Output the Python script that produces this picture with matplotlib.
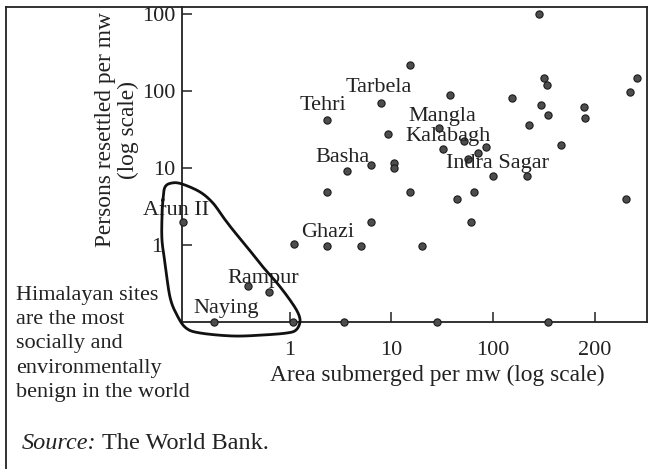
import numpy as np
import matplotlib
matplotlib.use("Agg")
import matplotlib.pyplot as plt
from matplotlib.lines import Line2D
from matplotlib.transforms import ScaledTranslation

# dam sites (both axes log scale)
area_per_mw = [284, 15.2, 7.9, 37.7, 154, 318, 340, 297, 348, 2620,
               2240, 790, 806, 226, 2.31, 29.4, 9.2, 51.8, 85, 32.2,
               71, 56.7, 468, 6.28, 10.6, 10.6, 3.64, 100, 216, 2.31,
               15.2, 44.2, 65, 2040, 6.28, 60.7, 2.31, 5.0, 20.0, 1.095,
               3.4, 28.1, 348, 0.088, 0.386, 0.62, 0.178, 1.07]
persons_per_mw = [1000, 218, 70, 89, 81, 148, 120, 66, 49, 148,
                  97, 62, 45, 36, 42, 33, 27.6, 22.4, 18.7, 17.7,
                  15.7, 13.1, 19.9, 10.9, 11.6, 10.0, 9.1, 7.9, 7.9, 4.9,
                  4.9, 4.0, 4.9, 4.0, 2.0, 2.0, 0.97, 0.97, 0.97, 1.03,
                  0.1, 0.1, 0.1, 2.0, 0.29, 0.245, 0.1, 0.1]

# named sites: (name, index of point, label offset in pixels)
site_labels = [("Tarbela", 2, (-36, 15)),
               ("Tehri", 14, (-27, 15)),
               ("Mangla", 15, (-31, 12)),
               ("Kalabagh", 19, (-38, 12)),
               ("Basha", 26, (-32, 14)),
               ("Indra Sagar", 27, (-47, 12)),
               ("Arun II", 43, (-40, 11)),
               ("Ghazi", 39, (7, 12)),
               ("Rampur", 44, (-21, 8)),
               ("Naying", 46, (-21, 13))]

tick_vals = [1, 10, 100, 1000]
x_tick_labels = ["1", "10", "100", "200"]
y_tick_labels = ["1", "10", "100", "100"]

# hand drawn loop round the Himalayan sites (data units)
loop_x = [0.056, 0.0587, 0.0688, 0.0863, 0.130, 0.174, 0.219, 0.274, 0.377, 0.542,
          0.745, 1.0, 1.20, 1.254, 1.146, 0.934, 0.542, 0.274, 0.130, 0.0945,
          0.077, 0.0657, 0.0587, 0.0548, 0.0548]
loop_y = [3.84, 5.66, 6.39, 6.20, 4.88, 3.51, 2.31, 1.57, 0.942, 0.518,
          0.321, 0.193, 0.131, 0.1, 0.0787, 0.072, 0.0678, 0.0658, 0.072, 0.0836,
          0.123, 0.211, 0.584, 1.16, 2.31]


def smooth_closed(xs, ys, n=16):
    # closed catmull-rom through the loop vertices, done in log space
    P = np.column_stack([np.log10(xs), np.log10(ys)])
    N = len(P)
    t = np.linspace(0, 1, n, endpoint=False)[:, None]
    segs = []
    for i in range(N):
        p0, p1, p2, p3 = P[i - 1], P[i], P[(i + 1) % N], P[(i + 2) % N]
        segs.append(0.5 * (2 * p1 + (-p0 + p2) * t
                           + (2 * p0 - 5 * p1 + 4 * p2 - p3) * t ** 2
                           + (-p0 + 3 * p1 - 3 * p2 + p3) * t ** 3))
    out = np.vstack(segs + [P[:1]])
    return 10 ** out[:, 0], 10 ** out[:, 1]


ink = "#222222"
plt.rcParams["font.family"] = ["Liberation Serif", "DejaVu Serif"]
fs = 16

fig = plt.figure(figsize=(6.53, 4.69), dpi=100)
ax = fig.add_axes([182 / 653, 1 - 322 / 469, 465 / 653, 315 / 469])
ax.set_xscale("log")
ax.set_yscale("log")
ax.set_xlim(0.0863, 3290)
ax.set_ylim(0.1, 1233)

ax.plot(area_per_mw, persons_per_mw, "o", ms=5.2, mfc="#4d4d4d", mec="#1a1a1a",
        mew=0.8, clip_on=False, zorder=3)

for name, i, off in site_labels:
    ax.annotate(name, (area_per_mw[i], persons_per_mw[i]), xytext=off,
                textcoords="offset pixels", ha="left", va="center",
                fontsize=fs, color=ink, zorder=4)

lx, ly = smooth_closed(loop_x, loop_y)
ax.plot(lx, ly, color="#111111", lw=2.0, clip_on=False, zorder=5)

ax.set_xticks(tick_vals)
ax.set_xticklabels(x_tick_labels)
ax.set_yticks(tick_vals)
ax.set_yticklabels(y_tick_labels)
ax.minorticks_off()
ax.tick_params(axis="x", direction="in", length=7, width=1.1, pad=14,
               labelsize=fs, colors=ink, top=False)
ax.tick_params(axis="y", direction="in", length=7, width=1.1, pad=5,
               labelsize=fs, colors=ink, right=False)
# the "1" on the y axis sits further out in the original
lab1 = ax.yaxis.get_major_ticks()[0].label1
lab1.set_transform(lab1.get_transform() + ScaledTranslation(-0.13, 0, fig.dpi_scale_trans))
for sp in ax.spines.values():
    sp.set_color(ink)
    sp.set_linewidth(1.3)

ax.set_xlabel("Area submerged per mw (log scale)", fontsize=16.8, color=ink)
ax.xaxis.set_label_coords(0.548, -0.135)
ax.set_ylabel("Persons resettled per mw\n(log scale)", fontsize=16.8, color=ink,
              va="center", linespacing=1.15)
ax.yaxis.set_label_coords(-0.14, 0.61)

fig.text(16 / 653, 1 - 286 / 469,
         "Himalayan sites\nare the most\nsocially and\nenvironmentally\nbenign in the world",
         ha="left", va="top", fontsize=fs, color=ink, linespacing=1.37)
fig.text(22 / 653, 1 - 443 / 469, "Source:", style="italic", ha="left",
         va="center", fontsize=17.5, color=ink)
fig.text(102 / 653, 1 - 443 / 469, "The World Bank.", ha="left",
         va="center", fontsize=17.5, color=ink)

# partial frame round the figure
fig.add_artist(Line2D([6 / 653, 6 / 653], [0, 1 - 7 / 469], color=ink, lw=1.3))
fig.add_artist(Line2D([6 / 653, 182 / 653], [1 - 7 / 469, 1 - 7 / 469], color=ink, lw=1.3))

fig.savefig("out.png", dpi=100)
